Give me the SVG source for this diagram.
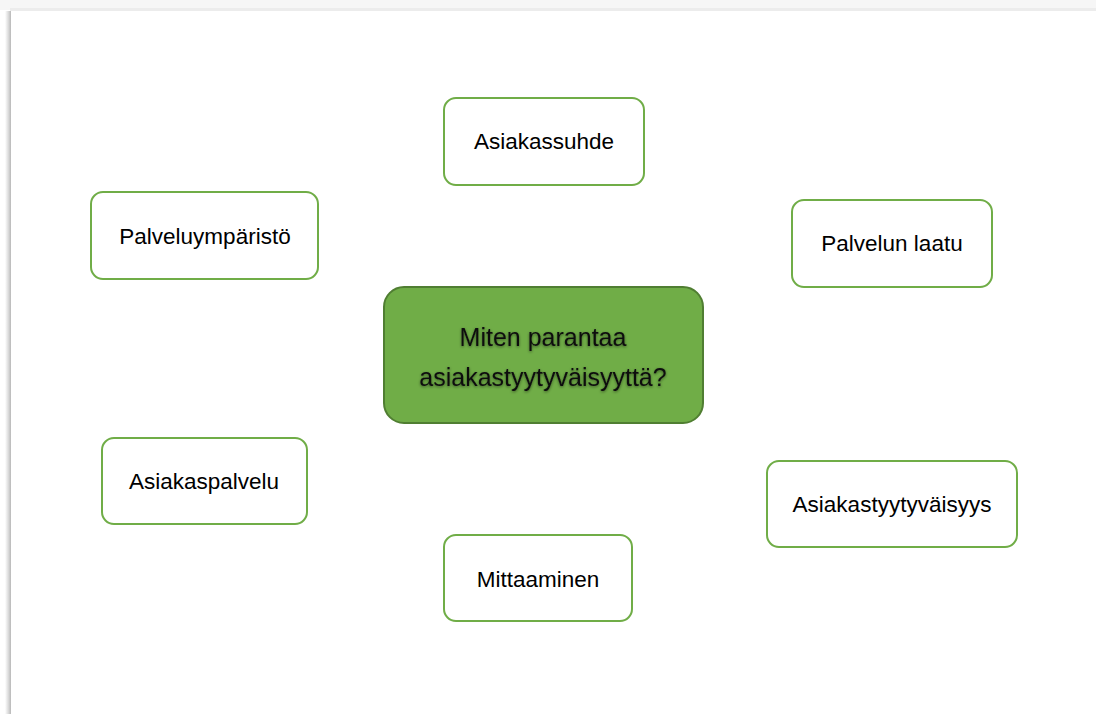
<svg xmlns="http://www.w3.org/2000/svg" width="1096" height="714" viewBox="0 0 1096 714">
<defs>
<linearGradient id="lsh" x1="0" x2="1" y1="0" y2="0">
<stop offset="0" stop-color="#ffffff"/>
<stop offset="0.6" stop-color="#d8d8d8"/>
<stop offset="1" stop-color="#b8b8b8"/>
</linearGradient>
<filter id="glow" x="-10%" y="-30%" width="120%" height="160%">
<feGaussianBlur in="SourceAlpha" stdDeviation="1.5"/>
<feOffset dx="0" dy="1" result="b"/>
<feComponentTransfer><feFuncA type="linear" slope="0.5"/></feComponentTransfer>
<feMerge><feMergeNode/><feMergeNode in="SourceGraphic"/></feMerge>
</filter>
</defs>
<style>
.box{fill:#ffffff;stroke:#70ad47;stroke-width:2}
.main{fill:#70ad47;stroke:#507e32;stroke-width:2}
.t{font-family:"Liberation Sans",Arial,sans-serif;font-size:22.5px;fill:#000;text-anchor:middle}
.tm{font-family:"Liberation Sans",Arial,sans-serif;font-size:25px;fill:#111;text-anchor:middle}
</style>
<rect x="0" y="0" width="1096" height="714" fill="#f6f6f6"/>
<rect x="0" y="10" width="10" height="704" fill="#ffffff"/>
<rect x="5" y="11" width="6" height="703" fill="url(#lsh)"/>
<rect x="10" y="8" width="1086" height="3" fill="#ececec"/>
<rect x="11" y="11" width="1085" height="703" fill="#ffffff"/>
<g id="connectors"></g>
<g id="node-center">
<rect class="main" x="384" y="287" width="319" height="136" rx="20"/>
<g filter="url(#glow)">
<text class="tm" x="543" y="346">Miten parantaa</text>
<text class="tm" x="543" y="386">asiakastyytyväisyyttä?</text>
</g>
</g>
<g id="node-asiakassuhde">
<rect class="box" x="444" y="98" width="200" height="87" rx="12"/>
<text class="t" x="544" y="149">Asiakassuhde</text>
</g>
<g id="node-palveluymparisto">
<rect class="box" x="91" y="192" width="227" height="87" rx="12"/>
<text class="t" x="205" y="244">Palveluympäristö</text>
</g>
<g id="node-palvelun-laatu">
<rect class="box" x="792" y="200" width="200" height="87" rx="12"/>
<text class="t" x="892" y="251">Palvelun laatu</text>
</g>
<g id="node-asiakaspalvelu">
<rect class="box" x="102" y="438" width="205" height="86" rx="12"/>
<text class="t" x="204" y="489">Asiakaspalvelu</text>
</g>
<g id="node-asiakastyytyvaisyys">
<rect class="box" x="767" y="461" width="250" height="86" rx="12"/>
<text class="t" x="892" y="512">Asiakastyytyväisyys</text>
</g>
<g id="node-mittaaminen">
<rect class="box" x="444" y="535" width="188" height="86" rx="12"/>
<text class="t" x="538" y="587">Mittaaminen</text>
</g>
</svg>
